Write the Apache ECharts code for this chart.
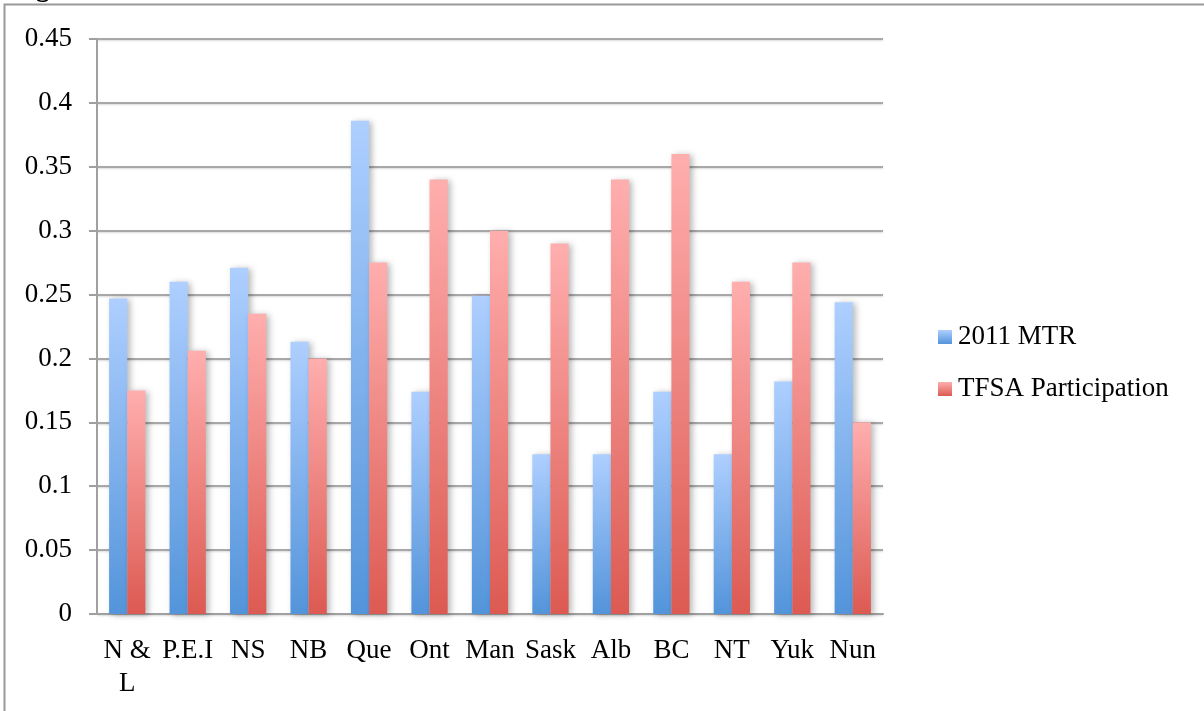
<!DOCTYPE html>
<html>
<head>
<meta charset="utf-8">
<script src="https://cdn.jsdelivr.net/npm/echarts@6/dist/echarts.min.js"></script>
<style>
  html, body { margin: 0; padding: 0; background: #fff; }
  #chart { width: 1204px; height: 711px; }
</style>
</head>
<body>
<div id="chart"></div>
<script>
// Provinces and territories
const categories = ['N &\nL', 'P.E.I', 'NS', 'NB', 'Que', 'Ont', 'Man', 'Sask', 'Alb', 'BC', 'NT', 'Yuk', 'Nun'];
// 2011 marginal tax rate
const mtr2011 = [0.247, 0.26, 0.271, 0.213, 0.386, 0.174, 0.249, 0.125, 0.125, 0.174, 0.125, 0.182, 0.244];
// TFSA participation rate
const tfsaParticipation = [0.175, 0.206, 0.235, 0.2, 0.275, 0.34, 0.3, 0.29, 0.34, 0.36, 0.26, 0.275, 0.15];
const seriesNames = ['2011 MTR', 'TFSA Participation'];

const FONT = 'Liberation Serif';
const FS = 27;

function grad(top, bottom) {
  return new echarts.graphic.LinearGradient(0, 0, 0, 1, [
    { offset: 0, color: top },
    { offset: 1, color: bottom }
  ]);
}

const barShadow = {
  shadowColor: 'rgba(0,0,0,0.28)',
  shadowBlur: 6,
  shadowOffsetX: 3,
  shadowOffsetY: 1
};

const chart = echarts.init(document.getElementById('chart'), null, { renderer: 'canvas' });
chart.setOption({
  animation: false,
  backgroundColor: '#fff',
  graphic: [
    {
      type: 'rect',
      shape: { x: 4.5, y: 4.5, width: 1300, height: 900 },
      style: { fill: 'none', stroke: '#9a9a9a', lineWidth: 2 },
      silent: true,
      z: -10
    },
    {
      type: 'text',
      left: 12,
      top: -24,
      style: { text: 'Figure', font: 'bold 27px "Liberation Serif"', fill: '#000' },
      silent: true
    }
  ],
  grid: { left: 97, right: 321, top: 39, bottom: 97, containLabel: false },
  legend: {
    orient: 'vertical',
    left: 933,
    top: 318,
    itemWidth: 14,
    itemHeight: 14,
    itemGap: 24,
    icon: 'rect',
    itemStyle: { shadowBlur: 0, shadowOffsetX: 0, shadowOffsetY: 0 },
    textStyle: { fontFamily: FONT, fontSize: FS, color: '#000', lineHeight: 28, padding: [0, 0, 0, 1] },
    data: seriesNames
  },
  xAxis: {
    type: 'category',
    data: categories,
    axisLine: { lineStyle: { color: '#a0a0a0', width: 2 } },
    axisTick: { length: 8, lineStyle: { color: '#a0a0a0', width: 2 } },
    axisLabel: { interval: 0, fontFamily: FONT, fontSize: FS, color: '#000', margin: 20, lineHeight: 33 }
  },
  yAxis: {
    type: 'value',
    min: 0,
    max: 0.45,
    interval: 0.05,
    axisLine: { show: true, lineStyle: { color: '#a0a0a0', width: 2 } },
    axisTick: { show: true, length: 8, lineStyle: { color: '#a0a0a0', width: 2 } },
    splitLine: { lineStyle: { color: '#a8a8a8', width: 2, shadowColor: 'rgba(0,0,0,0.15)', shadowBlur: 2, shadowOffsetY: 1 } },
    axisLabel: {
      fontFamily: FONT, fontSize: FS, color: '#000', margin: 25,
      formatter: v => String(parseFloat(v.toFixed(2)))
    }
  },
  series: [
    {
      name: seriesNames[0],
      type: 'bar',
      data: mtr2011,
      barGap: '0%',
      barCategoryGap: '40%',
      itemStyle: Object.assign({ color: grad('#aecfff', '#5394da') }, barShadow)
    },
    {
      name: seriesNames[1],
      type: 'bar',
      data: tfsaParticipation,
      barGap: '0%',
      barCategoryGap: '40%',
      itemStyle: Object.assign({ color: grad('#ffaeae', '#dc5a52') }, barShadow)
    }
  ]
});
</script>
</body>
</html>
